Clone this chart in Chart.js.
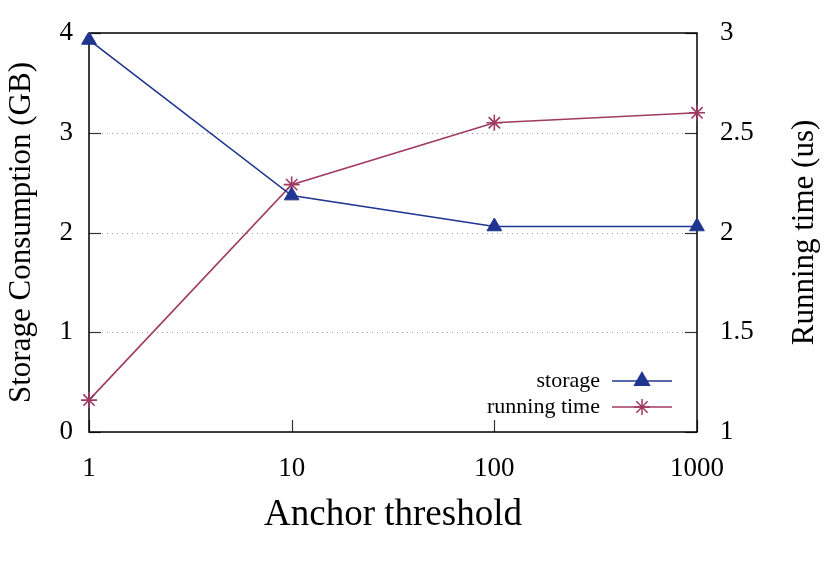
<!DOCTYPE html>
<html>
<head>
<meta charset="utf-8">
<script src="https://cdn.jsdelivr.net/npm/chart.js@4"></script>
<style>
  html, body { margin: 0; padding: 0; background: #fff; }
  #wrap { width: 830px; height: 563px; }
</style>
</head>
<body>
<div id="wrap"><canvas id="chart" width="830" height="563"></canvas></div>
<script>
// data
let thresholds = ['1', '10', '100', '1000'];
let storage = [3.93, 2.37, 2.06, 2.06];
let runningTime = [1.16, 2.24, 2.55, 2.6];
let leftTicks = [0, 1, 2, 3, 4];
let rightTicks = [1, 1.5, 2, 2.5, 3];
let gridTicks = [1, 2, 3];

let FONT = '"Liberation Serif", "Times New Roman", serif';
let BLUE = '#1f3590';
let RED = '#a03a60';

let frame = {
    id: 'frame',
    beforeDatasetsDraw(chart) {
        let ctx = chart.ctx;
        let a = chart.chartArea;
        let yl = chart.scales.y;
        let yr = chart.scales.y2;
        let x = chart.scales.x;
        ctx.save();
        // dotted grid
        ctx.strokeStyle = '#a0a0a0';
        ctx.lineWidth = 1;
        ctx.setLineDash([1, 4]);
        gridTicks.forEach(v => {
            let py = Math.round(yl.getPixelForValue(v)) + 0.5;
            ctx.beginPath();
            ctx.moveTo(a.left + 13, py);
            ctx.lineTo(a.right - 13, py);
            ctx.stroke();
        });
        ctx.setLineDash([]);
        // inward ticks
        ctx.strokeStyle = '#333';
        ctx.lineWidth = 1.2;
        leftTicks.forEach(v => {
            let py = Math.round(yl.getPixelForValue(v)) + 0.5;
            ctx.beginPath(); ctx.moveTo(a.left, py); ctx.lineTo(a.left + 12, py); ctx.stroke();
        });
        rightTicks.forEach(v => {
            let py = Math.round(yr.getPixelForValue(v)) + 0.5;
            ctx.beginPath(); ctx.moveTo(a.right, py); ctx.lineTo(a.right - 12, py); ctx.stroke();
        });
        thresholds.forEach((t, i) => {
            let px = Math.round(x.getPixelForValue(i)) + 0.5;
            ctx.beginPath(); ctx.moveTo(px, a.bottom); ctx.lineTo(px, a.bottom - 12); ctx.stroke();
        });
        // border
        ctx.strokeStyle = '#000';
        ctx.lineWidth = 1.5;
        ctx.strokeRect(a.left, a.top, a.right - a.left, a.bottom - a.top);
        ctx.restore();
    },
    afterDraw(chart) {
        let ctx = chart.ctx;
        let a = chart.chartArea;
        ctx.save();
        ctx.fillStyle = '#000';
        ctx.textAlign = 'center';
        ctx.textBaseline = 'middle';
        // axis titles
        ctx.font = '31px ' + FONT;
        ctx.save();
        ctx.translate(22, (a.top + a.bottom) / 2);
        ctx.rotate(-Math.PI / 2);
        ctx.fillText('Storage Consumption (GB)', 0, 0);
        ctx.restore();
        ctx.save();
        ctx.translate(805, (a.top + a.bottom) / 2);
        ctx.rotate(-Math.PI / 2);
        ctx.fillText('Running time (us)', 0, 0);
        ctx.restore();
        ctx.font = '37px ' + FONT;
        ctx.fillText('Anchor threshold', (a.left + a.right) / 2, 515);
        // legend
        ctx.font = '22px ' + FONT;
        ctx.textAlign = 'right';
        chart.data.datasets.forEach((ds, i) => {
            let ly = a.bottom - 51 + i * 26;
            ctx.fillStyle = '#000';
            ctx.fillText(ds.label, a.right - 97, ly);
            ctx.strokeStyle = ds.borderColor;
            ctx.fillStyle = ds.borderColor;
            ctx.lineWidth = 1.5;
            ctx.beginPath();
            ctx.moveTo(a.right - 85, ly);
            ctx.lineTo(a.right - 25, ly);
            ctx.stroke();
            Chart.helpers.drawPoint(ctx, {
                pointStyle: ds.pointStyle,
                radius: ds.pointRadius,
                rotation: 0,
                borderWidth: ds.pointBorderWidth
            }, a.right - 55, ly);
        });
        ctx.restore();
    }
};

function noPad(s) {
    s.paddingTop = 0;
    s.paddingBottom = 0;
    s.paddingLeft = 0;
    s.paddingRight = 0;
}

new Chart(document.getElementById('chart'), {
    type: 'line',
    data: {
        labels: thresholds,
        datasets: [
            {
                label: 'storage',
                data: storage,
                yAxisID: 'y',
                borderColor: BLUE,
                backgroundColor: BLUE,
                borderWidth: 1.6,
                pointStyle: 'triangle',
                pointRadius: 8.5,
                pointBorderWidth: 1,
                tension: 0
            },
            {
                label: 'running time',
                data: runningTime,
                yAxisID: 'y2',
                borderColor: RED,
                backgroundColor: RED,
                borderWidth: 1.6,
                pointStyle: 'star',
                pointRadius: 8,
                pointBorderWidth: 1.6,
                tension: 0
            }
        ]
    },
    options: {
        responsive: false,
        animation: false,
        layout: { padding: { top: 33, left: 0, right: 0, bottom: 0 } },
        plugins: {
            legend: { display: false },
            tooltip: { enabled: false }
        },
        scales: {
            x: {
                type: 'category',
                offset: false,
                grid: { display: false, drawTicks: false },
                border: { display: false },
                ticks: { color: '#000', font: { family: FONT, size: 27 }, padding: 21, maxRotation: 0 },
                afterFit(s) { s.height = 131; noPad(s); }
            },
            y: {
                position: 'left',
                min: 0, max: 4,
                grid: { display: false, drawTicks: false },
                border: { display: false },
                afterBuildTicks(s) { s.ticks = leftTicks.map(v => ({ value: v })); },
                ticks: { color: '#000', font: { family: FONT, size: 27 }, padding: 16, callback: v => String(v) },
                afterFit(s) { s.width = 89; noPad(s); }
            },
            y2: {
                position: 'right',
                min: 1, max: 3,
                grid: { display: false, drawTicks: false },
                border: { display: false },
                afterBuildTicks(s) { s.ticks = rightTicks.map(v => ({ value: v })); },
                ticks: { color: '#000', font: { family: FONT, size: 27 }, padding: 23, callback: v => String(v) },
                afterFit(s) { s.width = 133; noPad(s); }
            }
        }
    },
    plugins: [frame]
});
</script>
</body>
</html>
